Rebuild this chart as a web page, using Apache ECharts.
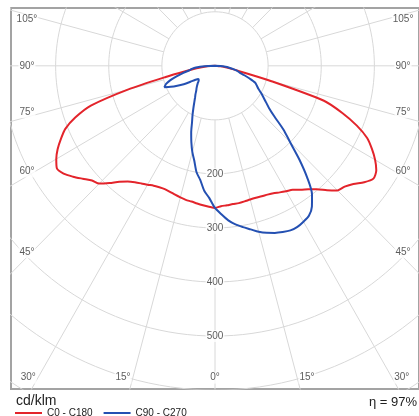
<!DOCTYPE html>
<html>
<head>
<meta charset="utf-8">
<script src="https://cdn.jsdelivr.net/npm/echarts@6/dist/echarts.min.js"></script>
<style>
  html, body { margin: 0; padding: 0; background: #fff; }
  #chart { width: 419px; height: 416px; }
</style>
</head>
<body>
<div id="chart"></div>
<script>
// Polar luminous intensity distribution (cd/klm), gamma measured from nadir.
const gammaDeg = [0, 2.5, 5, 7.5, 10, 12.5, 15, 17.5, 20, 22.5, 25, 27.5, 30, 32.5, 35, 37.5, 40, 42.5, 45,
                  47.5, 50, 52.5, 55, 57.5, 60, 62.5, 65, 67.5, 70, 72.5, 75, 77.5, 80, 82.5, 85, 87.5, 90];

// C0 plane (right half) and C180 plane (left half)
const c0   = [261, 260, 259, 258, 258, 257, 256, 256, 257, 258, 260, 264, 268, 272, 280, 288, 298, 312, 326,
              331, 340, 354, 364, 360, 348, 333, 316, 289, 255, 215, 110, 50, 30, 18, 10, 4, 0];
const c180 = [263, 261, 259, 257, 255, 254, 252, 250, 248, 247, 248, 250, 254, 258, 263, 270, 280, 294, 308,
              314, 325, 337, 348, 353, 345, 334, 320, 305, 280, 245, 170, 95, 55, 35, 20, 8, 0];
// C90 plane (right half) and C270 plane (left half)
const c90  = [263, 275, 287, 296, 303, 310, 318, 324, 329, 333, 336, 336, 333, 329, 318, 300, 270, 235, 200,
              175, 146, 128, 117, 108, 100, 92, 87, 82, 70, 58, 48, 42, 35, 27, 20, 10, 0];
const c270 = [263, 245, 232, 213, 200, 180, 165, 148, 131, 113, 100, 88, 78, 70, 64, 58, 54, 50, 46,
              42, 40, 40, 45, 55, 68, 80, 92, 103, 98, 88, 75, 62, 50, 44, 36, 20, 0];

const ringValues = [100, 200, 300, 400, 500, 600, 700, 800, 900];
const ringLabels = [200, 300, 400, 500];
const sideAngleLabels = [105, 90, 75, 60, 45];
const bottomAngleLabels = [-30, -15, 0, 15, 30];
const unitText = 'cd/klm';
const etaText = '\u03b7 = 97%';
const seriesNames = ['C0 - C180', 'C90 - C270'];

const RED = '#e3242b';
const BLUE = '#2450b2';
const GRID = '#d8d8d8';
const FONT = 'Liberation Sans';

const X_MIN = -384, X_MAX = 384, Y_MIN = -598, Y_MAX = 107;

function toXY(g, v, side) {
  const r = g * Math.PI / 180;
  return [side * v * Math.sin(r), -v * Math.cos(r)];
}

// Join the left plane (90 -> 0) with the right plane (0 -> 90) into one curve through nadir
function planeCurve(leftVals, rightVals) {
  const pts = [];
  for (let i = gammaDeg.length - 1; i >= 0; i--) pts.push(toXY(gammaDeg[i], leftVals[i], -1));
  for (let i = 1; i < gammaDeg.length; i++) pts.push(toXY(gammaDeg[i], rightVals[i], 1));
  return pts;
}

const series = [];

// concentric rings
ringValues.forEach(v => {
  const pts = [];
  for (let a = 0; a <= 360; a += 2) pts.push(toXY(a, v, 1));
  series.push({
    type: 'line', data: pts, symbol: 'none', silent: true, clip: true, z: 1,
    lineStyle: { color: GRID, width: 1 }
  });
});

// radial lines every 15 degrees, starting at the innermost ring
for (let a = 0; a < 360; a += 15) {
  series.push({
    type: 'line', data: [toXY(a, ringValues[0], 1), toXY(a, 1400, 1)], symbol: 'none',
    silent: true, clip: true, z: 1, lineStyle: { color: GRID, width: 1 }
  });
}

const labelStyle = {
  show: true, position: 'inside', color: '#333', fontSize: 10, fontFamily: FONT,
  backgroundColor: '#fff', padding: [1, 1],
  formatter: p => p.value[2]
};

// intensity labels along the nadir line
series.push({
  type: 'scatter', symbolSize: 0, silent: true, z: 5,
  data: ringLabels.map(v => [0, -v, String(v)]),
  label: labelStyle
});

// angle labels on both sides: on each ray at the label column, nudged toward the horizontal
const sideTextX = 354, sideNudge = 9;
const sidePts = [];
sideAngleLabels.forEach(g => {
  const r = g * Math.PI / 180;
  const onRay = -sideTextX * Math.cos(r) / Math.sin(r);
  const y = onRay - Math.sign(onRay) * Math.min(sideNudge, Math.abs(onRay));
  sidePts.push([-sideTextX, y, g + '\u00b0']);
  sidePts.push([sideTextX, y, g + '\u00b0']);
});
series.push({
  type: 'scatter', symbolSize: 0, silent: true, z: 5, data: sidePts, label: labelStyle
});

// angle labels along the bottom edge, just outside their rays
const bottomY = -577, bottomShift = 18.5;
series.push({
  type: 'scatter', symbolSize: 0, silent: true, z: 5,
  data: bottomAngleLabels.map(g => [
    -bottomY * Math.tan(g * Math.PI / 180) + Math.sign(g) * bottomShift, bottomY, Math.abs(g) + '\u00b0'
  ]),
  label: labelStyle
});

// photometric curves
series.push({
  name: seriesNames[0], type: 'line', data: planeCurve(c180, c0), symbol: 'none',
  smooth: 0.25, clip: true, z: 10, lineStyle: { color: RED, width: 2 }, itemStyle: { color: RED }
});
series.push({
  name: seriesNames[1], type: 'line', data: planeCurve(c270, c90), symbol: 'none',
  smooth: 0.25, clip: true, z: 10, lineStyle: { color: BLUE, width: 2 }, itemStyle: { color: BLUE }
});

const chart = echarts.init(document.getElementById('chart'), null, { renderer: 'canvas' });
chart.setOption({
  animation: false,
  backgroundColor: '#fff',
  grid: { left: 11, top: 8, width: 415, height: 381, show: true, borderColor: '#a3a3a3', borderWidth: 2, backgroundColor: 'transparent' },
  xAxis: { type: 'value', min: X_MIN, max: X_MAX, show: false },
  yAxis: { type: 'value', min: Y_MIN, max: Y_MAX, show: false },
  title: [
    { text: unitText, left: 16, top: 394, padding: 0, textStyle: { fontSize: 14, fontWeight: 'normal', color: '#222', fontFamily: FONT } },
    { text: etaText, right: 2, top: 396, padding: 0, textStyle: { fontSize: 13, fontWeight: 'normal', color: '#222', fontFamily: FONT } }
  ],
  legend: {
    data: [
      { name: seriesNames[0], itemStyle: { color: RED } },
      { name: seriesNames[1], itemStyle: { color: BLUE } }
    ],
    left: 15, top: 408, padding: 0, itemWidth: 27, itemHeight: 2, itemGap: 11, icon: 'rect',
    textStyle: { fontSize: 10, color: '#222', fontFamily: FONT }
  },
  series: series
});
</script>
</body>
</html>
